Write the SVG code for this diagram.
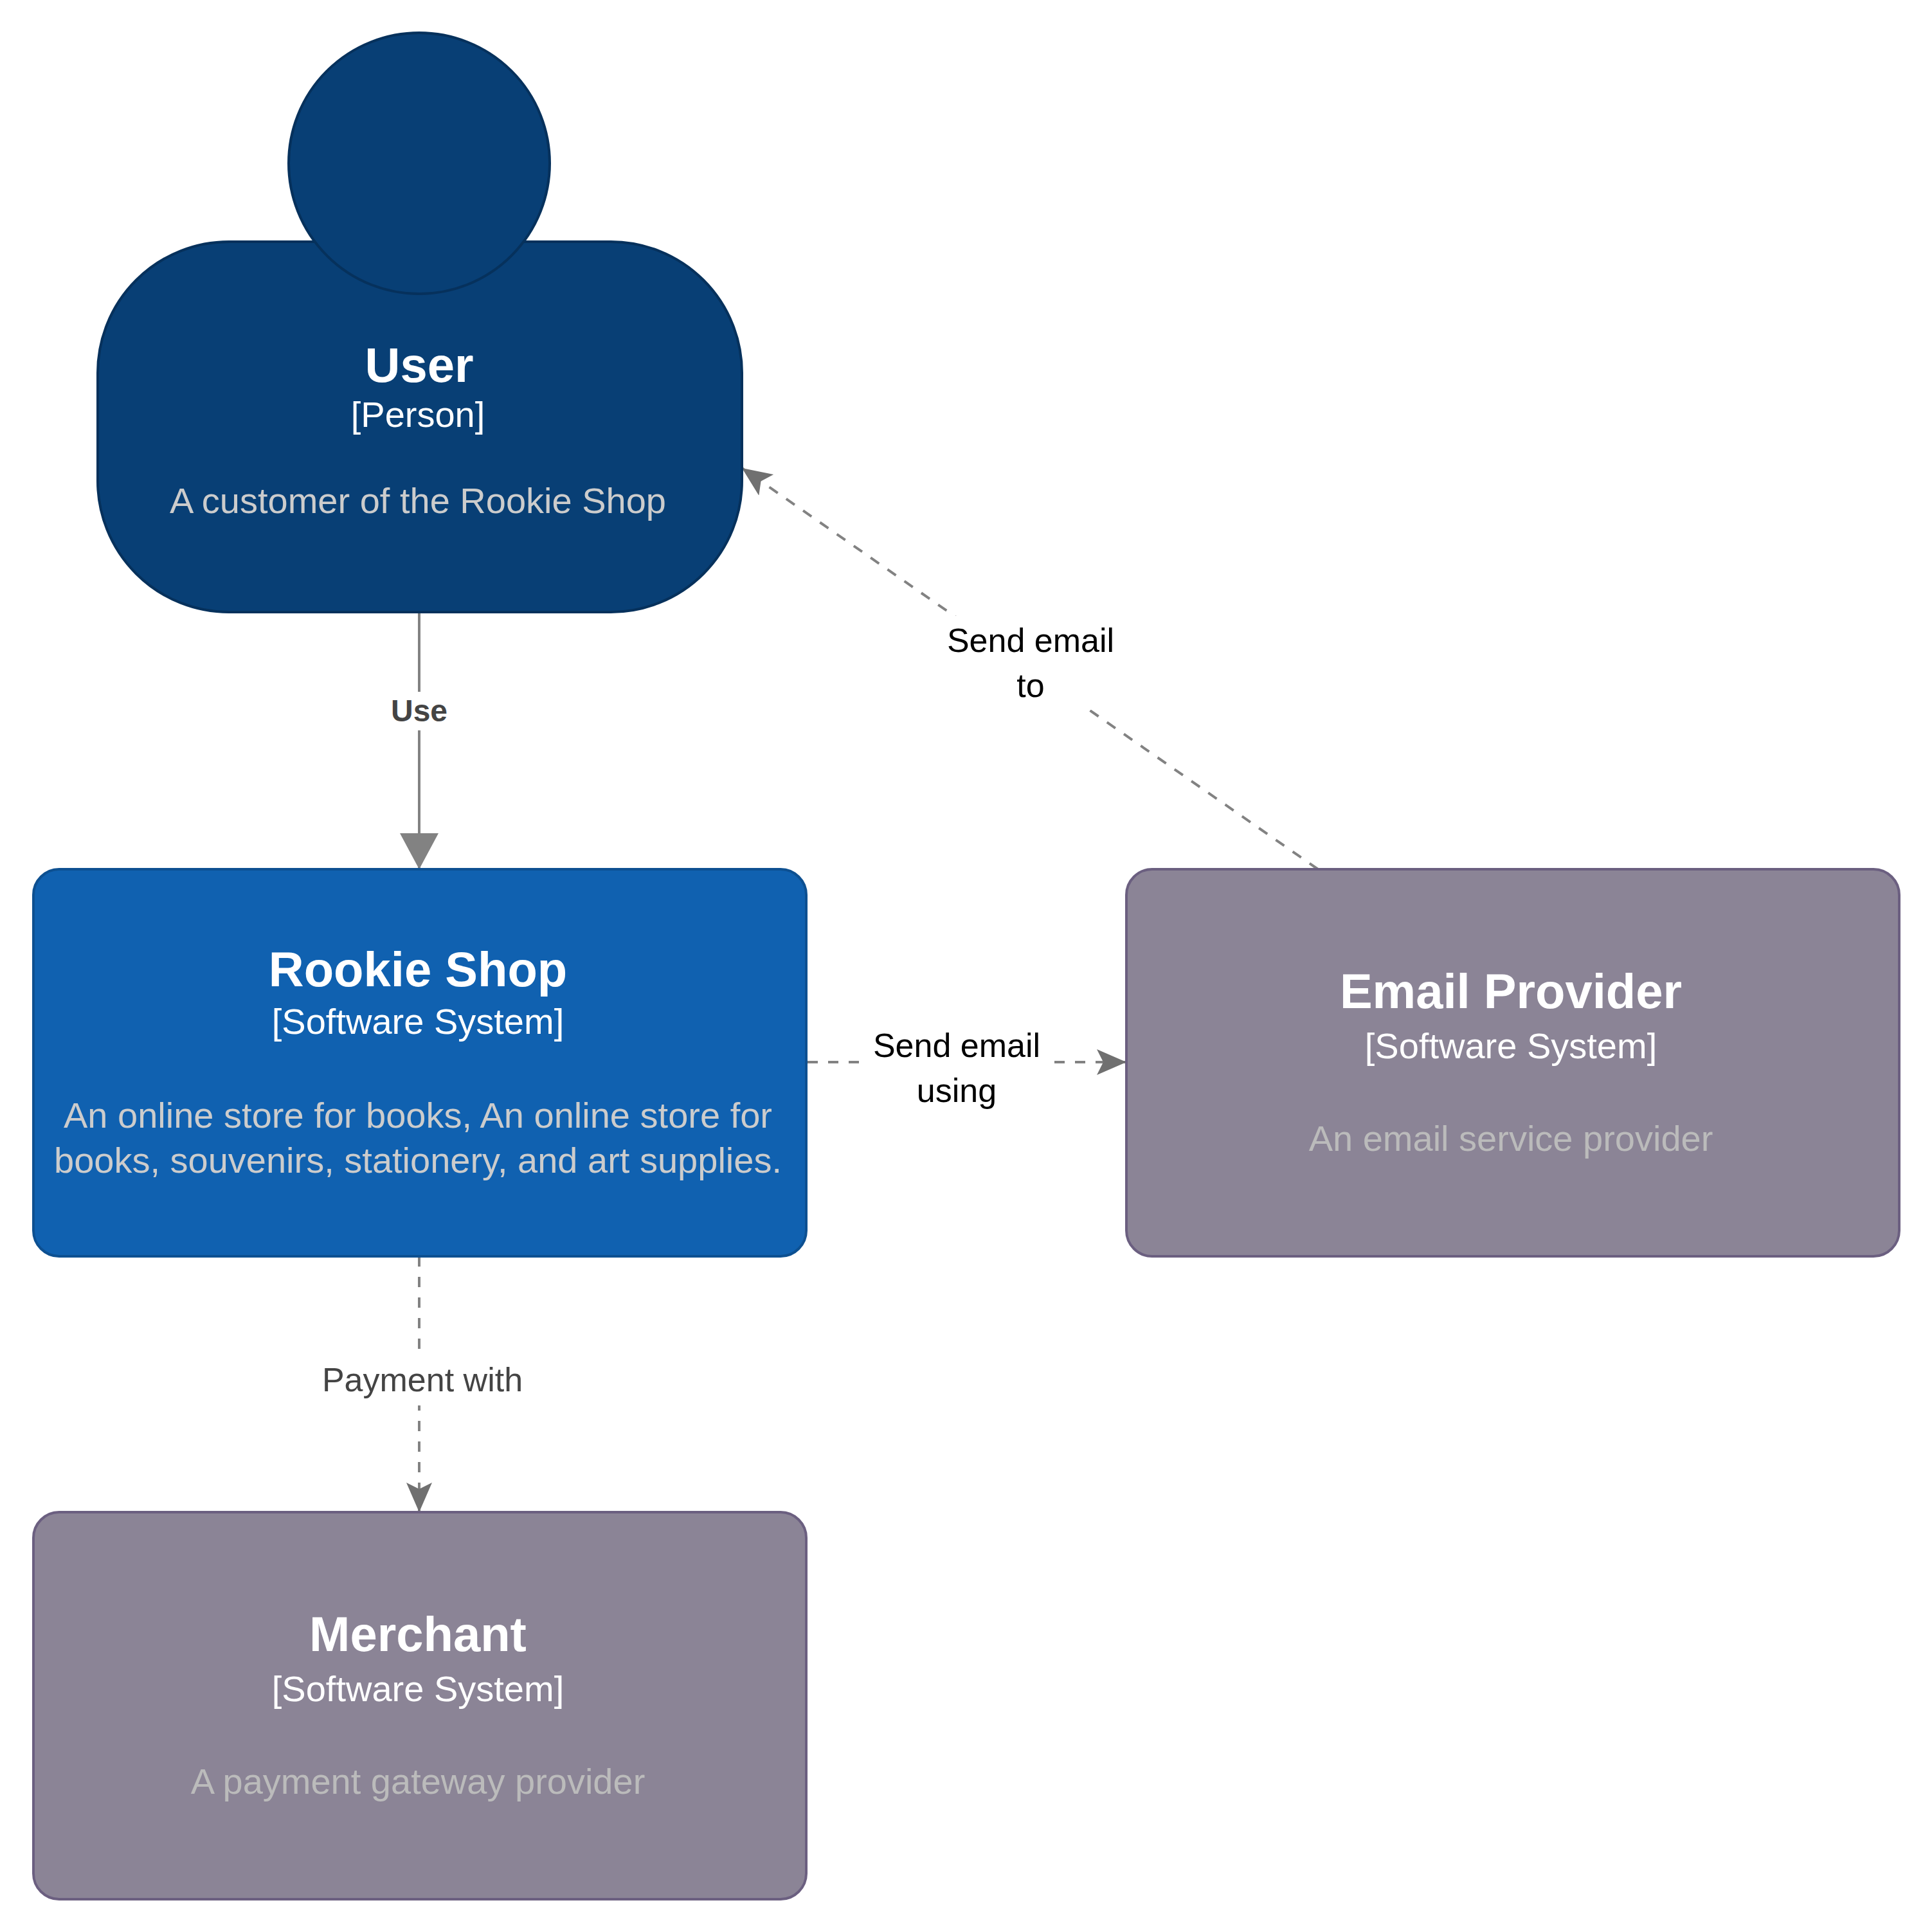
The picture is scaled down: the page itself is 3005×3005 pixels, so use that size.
<svg xmlns="http://www.w3.org/2000/svg" width="3005" height="3005" viewBox="0 0 3005 3005">
<style>
text{font-family:"Liberation Sans",Arial,sans-serif;text-anchor:middle}
.t{font-size:76px;font-weight:700;fill:#fff}
.k{font-size:56px;fill:#fff}
.d{font-size:56px;fill:#ccc}
.dg{font-size:56px;fill:#bbb}
.l{font-size:52px;fill:#000}
.c{fill:none;stroke:#828282;stroke-width:4}
.dash{stroke-dasharray:16 16}
.ext{fill:#8b8496;stroke:#6b5f80;stroke-width:4}
</style>
<defs>
<marker id="a" markerUnits="userSpaceOnUse" markerWidth="60" markerHeight="84" refX="56" refY="42" orient="auto"><path d="M0 12 L56 42 L0 72Z" fill="#828282"/></marker>
<marker id="b" markerUnits="userSpaceOnUse" markerWidth="50" markerHeight="44" refX="46" refY="22" orient="auto"><path d="M0 2 L46 22 L0 42 L10 22Z" fill="#707070"/></marker>
</defs>
<g id="connectors">
<path class="c" d="M652 954V1352" marker-end="url(#a)"/>
<rect x="600" y="1076" width="104" height="60" fill="#fff"/>
<text x="652" y="1122" font-size="48" font-weight="700" fill="#444">Use</text>
<path class="c dash" d="M1256 1652H1752" marker-end="url(#b)"/>
<rect x="1350" y="1590" width="276" height="136" fill="#fff"/>
<text class="l" x="1488" y="1644">Send email</text><text class="l" x="1488" y="1714">using</text>
<path class="c dash" d="M2050 1352L1154 728" marker-end="url(#b)"/>
<rect x="1466" y="958" width="276" height="146" fill="#fff"/>
<text class="l" x="1603" y="1014">Send email</text><text class="l" x="1603" y="1084">to</text>
<path class="c dash" d="M652 1954V2352" marker-end="url(#b)"/>
<rect x="490" y="2110" width="330" height="76" fill="#fff"/>
<text x="657" y="2164" font-size="52" fill="#444">Payment with</text>
</g>
<g id="user">
<rect x="152" y="376" width="1002" height="576" rx="204" fill="#083f75" stroke="#06315c" stroke-width="4"/>
<circle cx="652" cy="254" r="203" fill="#083f75" stroke="#06315c" stroke-width="4"/>
<text class="t" x="652" y="594">User</text><text class="k" x="650" y="664">[Person]</text>
<text class="d" x="650" y="798">A customer of the Rookie Shop</text>
</g>
<g id="rookie-shop">
<rect x="52" y="1352" width="1202" height="602" rx="40" fill="#1061b0" stroke="#0d5091" stroke-width="4"/>
<text class="t" x="650" y="1534">Rookie Shop</text><text class="k" x="650" y="1608">[Software System]</text>
<text class="d" x="650" y="1754">An online store for books, An online store for</text>
<text class="d" x="650" y="1824">books, souvenirs, stationery, and art supplies.</text>
</g>
<g id="email-provider">
<rect class="ext" x="1752" y="1352" width="1202" height="602" rx="40"/>
<text class="t" x="2350" y="1568">Email Provider</text><text class="k" x="2350" y="1646">[Software System]</text>
<text class="dg" x="2350" y="1790">An email service provider</text>
</g>
<g id="merchant">
<rect class="ext" x="52" y="2352" width="1202" height="602" rx="40"/>
<text class="t" x="650" y="2568">Merchant</text><text class="k" x="650" y="2646">[Software System]</text>
<text class="dg" x="650" y="2790">A payment gateway provider</text>
</g>
</svg>
